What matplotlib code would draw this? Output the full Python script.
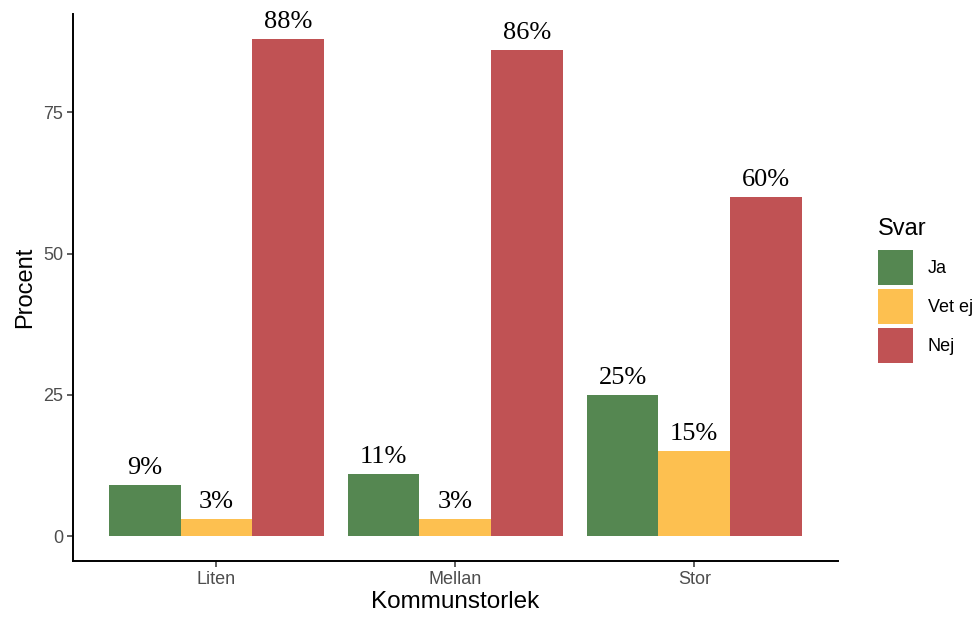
import matplotlib
matplotlib.use("Agg")
import matplotlib.pyplot as plt
import numpy as np
from matplotlib.patches import Patch

categories = ['Liten', 'Mellan', 'Stor']
answers = ['Ja', 'Vet ej', 'Nej']
ja = [9, 11, 25]
vet_ej = [3, 3, 15]
nej = [88, 86, 60]
colors = ['#558751', '#FDC050', '#C05254']

sans = 'Liberation Sans'

fig = plt.figure(figsize=(9.79, 6.18), dpi=100)
ax = fig.add_axes([0.0746, 0.0922, 0.781, 0.885])

x = np.arange(1, len(categories) + 1)
width = 0.3
for i, (vals, col) in enumerate(zip([ja, vet_ej, nej], colors)):
    pos = x + (i - 1) * width
    ax.bar(pos, vals, width, color=col, label=answers[i])
    # percentage text just above each bar
    for p, v in zip(pos, vals):
        ax.text(p, v + 2.0, f'{v}%', ha='center', va='baseline',
                family='Liberation Serif', fontsize=19, color='black')

ax.set_xlim(0.4, 3.6)
ax.set_ylim(-4.4, 92.4)
ax.set_xticks(x)
ax.set_xticklabels(categories)
ax.set_yticks([0, 25, 50, 75])

for side in ['top', 'right']:
    ax.spines[side].set_visible(False)
for side in ['left', 'bottom']:
    ax.spines[side].set_linewidth(1.4)
ax.tick_params(length=4, width=1.1, color='#333333', labelcolor='#4D4D4D',
               labelsize=13, pad=3)
for lab in ax.get_xticklabels() + ax.get_yticklabels():
    lab.set_family(sans)

ax.set_xlabel('Kommunstorlek', family=sans, fontsize=17.5, labelpad=2)
ax.set_ylabel('Procent', family=sans, fontsize=17, labelpad=5)

# square legend keys with a small gap between them
handles = [Patch(facecolor=c, edgecolor='none') for c in colors]
leg = fig.legend(handles, answers, title='Svar', loc='upper left',
                 bbox_to_anchor=(0.897, 0.647), frameon=False,
                 borderaxespad=0, borderpad=0,
                 handlelength=1.94, handleheight=2.6, handletextpad=0.8,
                 labelspacing=0.22,
                 prop={'family': sans, 'size': 13},
                 title_fontproperties={'family': sans, 'size': 17})
leg._legend_box.align = 'left'
leg._legend_box.sep = 7

fig.savefig('out.png', dpi=100)
